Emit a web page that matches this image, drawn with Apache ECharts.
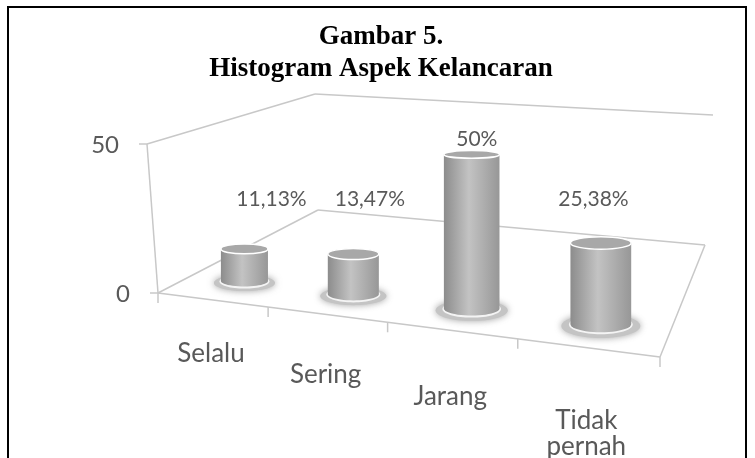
<!DOCTYPE html>
<html>
<head>
<meta charset="utf-8">
<script src="https://cdn.jsdelivr.net/npm/echarts@6/dist/echarts.min.js"></script>
<style>
  html, body { margin: 0; padding: 0; background: #fff; }
  #chart { width: 755px; height: 458px; }
</style>
</head>
<body>
<div id="chart"></div>
<script>
// data
var categories = ['Selalu', 'Sering', 'Jarang', 'Tidak\npernah'];
var values = [11.13, 13.47, 50, 25.38];
var yTicks = [0, 50];

// view of the 3d box: floor corners and the same corners at the top value
// order: front-left, front-right, back-right, back-left
var FLOOR = [[158, 293], [660, 357], [705, 245], [318, 210]];
var ROOF = [[147, 144], [668, 185], [713, 115], [315, 94]];
var PERSP = -0.157;     // foreshortening along the category axis
var BAR_DEPTH = 0.22;   // where the cylinders stand (0 = front, 1 = back)
var LABEL_MAX_Y = 199;

var labelFont = 'Lato, "Noto Sans", sans-serif';
var lineColor = '#c8c8c8';

function warp(u) {
    return u * (1 + PERSP) / (1 + PERSP * u);
}

function bilerp(q, u, d) {
    var x = (1 - d) * ((1 - u) * q[0][0] + u * q[1][0]) + d * ((1 - u) * q[3][0] + u * q[2][0]);
    var y = (1 - d) * ((1 - u) * q[0][1] + u * q[1][1]) + d * ((1 - u) * q[3][1] + u * q[2][1]);
    return [x, y];
}

// u: 0..1 along categories, d: depth, t: 0..1 of the value axis
function project(u, d, t) {
    var w = warp(u);
    var p = bilerp(FLOOR, w, d), q = bilerp(ROOF, w, d);
    return [p[0] + (q[0] - p[0]) * t, p[1] + (q[1] - p[1]) * t];
}

function flatness(y) {
    return Math.max(0.12, Math.min(0.3, 0.135 + (y - 153) * 0.0008));
}

// normalise a pixel from the hidden grid into u / t
function toUT(cs, pt) {
    return [(pt[0] - cs.x) / cs.width, (cs.y + cs.height - pt[1]) / cs.height];
}

function line(a, b, w) {
    return {
        type: 'line',
        shape: { x1: a[0], y1: a[1], x2: b[0], y2: b[1] },
        style: { stroke: lineColor, lineWidth: w || 1.5 }
    };
}

function renderFrame(params, api) {
    var cs = params.coordSys;
    var children = [];
    var fl = project(0, 0, 0), fr = project(1, 0, 0), br = project(1, 1, 0), bl = project(0, 1, 0);
    var flT = project(0, 0, 1), blT = project(0, 1, 1), brT = project(1, 1, 1);
    // walls
    children.push(line(fl, flT));
    children.push(line(flT, blT));
    children.push(line(blT, brT));
    // floor
    children.push(line(fl, bl));
    children.push(line(bl, br));
    children.push(line(br, fr));
    children.push(line(fr, fl));
    // value ticks + labels
    yTicks.forEach(function (tv) {
        var t = toUT(cs, api.coord([0, tv]))[1];
        var p = project(0, 0, t);
        children.push(line([p[0] - 8, p[1]], p));
        children.push({
            type: 'text',
            style: {
                text: String(tv), x: p[0] - 28, y: p[1] + 1,
                align: 'right', verticalAlign: 'middle',
                font: '24px ' + labelFont, fill: '#595959'
            }
        });
    });
    // category ticks + labels
    var slot = api.size([1, 0])[0] / cs.width;
    categories.forEach(function (name, i) {
        var u = toUT(cs, api.coord([i, 0]))[0];
        var e0 = project(u - slot / 2, 0, 0);
        children.push(line(e0, [e0[0], e0[1] + 10]));
        if (i === categories.length - 1) {
            var e1 = project(u + slot / 2, 0, 0);
            children.push(line(e1, [e1[0], e1[1] + 10]));
        }
        var m = project(u, 0, 0);
        children.push({
            type: 'text',
            style: {
                text: name, x: m[0] - 1, y: m[1] + 38 + 26 * warp(u),
                align: 'center', verticalAlign: 'top', lineHeight: 26,
                font: '26px ' + labelFont, fill: '#595959'
            }
        });
    });
    return { type: 'group', children: children };
}

function ellipsePts(c, rx, ry, a0, a1) {
    var pts = [];
    for (var k = 0; k <= 24; k++) {
        var a = a0 + (a1 - a0) * k / 24;
        pts.push([c[0] + rx * Math.cos(a), c[1] + ry * Math.sin(a)]);
    }
    return pts;
}

function halfWidth(u, r, t) {
    return Math.abs(project(u + r, BAR_DEPTH, t)[0] - project(u - r, BAR_DEPTH, t)[0]) / 2;
}

function renderBar(params, api) {
    var cs = params.coordSys;
    var v = api.value(1);
    var u = toUT(cs, api.coord([api.value(0), 0]))[0];
    var t = toUT(cs, api.coord([api.value(0), v]))[1];
    var r = api.size([1, 0])[0] / cs.width * 0.225;
    var B = project(u, BAR_DEPTH, 0);
    var T = [B[0], project(u, BAR_DEPTH, t)[1]];
    var rx = halfWidth(u, r, 0);
    var ryB = rx * flatness(B[1]), ryT = rx * flatness(T[1]);
    var body = ellipsePts(T, rx, ryT, Math.PI, 2 * Math.PI)
        .concat(ellipsePts(B, rx, ryB, 0, Math.PI));
    var txt = String(v).replace('.', ',') + '%';
    return {
        type: 'group',
        children: [
            {
                type: 'ellipse',
                shape: { cx: B[0], cy: B[1] + 2, rx: rx * 1.3, ry: ryB * 1.45 },
                style: { fill: '#c4c4c4', shadowBlur: 7, shadowColor: 'rgba(140,140,140,0.8)' }
            },
            {
                type: 'ellipse',
                shape: { cx: B[0], cy: B[1] + 0.5, rx: rx + 1.5, ry: ryB + 1.5 },
                style: { fill: '#f4f4f4' }
            },
            {
                type: 'polygon',
                shape: { points: body },
                style: {
                    fill: new echarts.graphic.LinearGradient(0, 0, 1, 0, [
                        { offset: 0, color: '#8c8c8c' },
                        { offset: 0.45, color: '#c3c3c3' },
                        { offset: 1, color: '#979797' }
                    ])
                }
            },
            {
                type: 'ellipse',
                shape: { cx: T[0], cy: T[1], rx: rx, ry: ryT },
                style: { fill: '#a8a8a8', stroke: '#ffffff', lineWidth: 1.5 }
            },
            {
                type: 'text',
                style: {
                    text: txt, x: B[0] + 32 - 46 * warp(u),
                    y: Math.min(T[1] - ryT - 11, LABEL_MAX_Y),
                    align: 'center', verticalAlign: 'middle',
                    font: '21px ' + labelFont, fill: '#595959'
                }
            }
        ]
    };
}

var titleStyle = { fontFamily: 'Liberation Serif', fontWeight: 'bold', fontSize: 27, color: '#000' };
var chart = echarts.init(document.getElementById('chart'));
var option = {
    animation: false,
    title: [
        { text: 'Gambar 5.', left: 381, textAlign: 'center', top: 24, padding: 0, textStyle: titleStyle },
        { text: 'Histogram Aspek Kelancaran', left: 381, textAlign: 'center', top: 56, padding: 0, textStyle: titleStyle }
    ],
    graphic: [{
        type: 'rect', silent: true,
        shape: { x: 8, y: 7, width: 738, height: 470 },
        style: { fill: 'none', stroke: '#000', lineWidth: 2 }
    }],
    grid: { left: 158, right: 94, top: 144, bottom: 164 },
    xAxis: { type: 'category', data: categories, show: false },
    yAxis: { type: 'value', min: 0, max: 50, show: false },
    series: [
        { type: 'custom', renderItem: renderFrame, data: [[0, 0]], silent: true },
        { type: 'custom', renderItem: renderBar, data: values.map(function (v, i) { return [i, v]; }), silent: true }
    ]
};
chart.setOption(option);
</script>
</body>
</html>
